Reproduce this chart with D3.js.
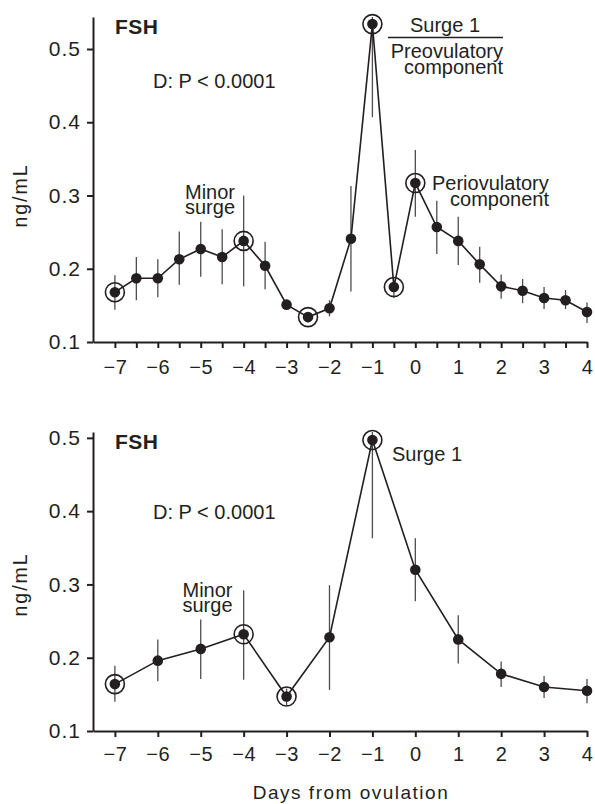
<!DOCTYPE html>
<html>
<head>
<meta charset="utf-8">
<script src="https://cdn.jsdelivr.net/npm/d3@7"></script>
<style>
  body { margin: 0; background: #fff; }
  svg text { font-family: "Liberation Sans", Arial, sans-serif; fill: #231f20; }
</style>
</head>
<body>
<div id="chart"></div>
<script>
// ---- data ----
// top panel: sampled every half day
const topDays = [-7, -6.5, -6, -5.5, -5, -4.5, -4, -3.5, -3, -2.5, -2, -1.5, -1, -0.5, 0, 0.5, 1, 1.5, 2, 2.5, 3, 3.5, 4];
const topMean = [0.168, 0.187, 0.187, 0.213, 0.227, 0.216, 0.238, 0.204, 0.151, 0.134, 0.146, 0.241, 0.534, 0.175, 0.317, 0.257, 0.238, 0.206, 0.176, 0.170, 0.160, 0.157, 0.141];
const topLo   = [0.144, 0.157, 0.161, 0.178, 0.189, 0.179, 0.176, 0.172, 0.145, 0.127, 0.135, 0.169, 0.407, 0.160, 0.271, 0.220, 0.205, 0.181, 0.159, 0.153, 0.145, 0.145, 0.126];
const topHi   = [0.191, 0.216, 0.213, 0.251, 0.264, 0.254, 0.300, 0.237, 0.158, 0.141, 0.157, 0.313, 0.661, 0.185, 0.362, 0.293, 0.271, 0.230, 0.192, 0.186, 0.175, 0.171, 0.154];
const topCircled = [-7, -4, -2.5, -1, -0.5, 0];

// bottom panel: daily
const botDays = [-7, -6, -5, -4, -3, -2, -1, 0, 1, 2, 3, 4];
const botMean = [0.164, 0.196, 0.212, 0.232, 0.147, 0.228, 0.497, 0.320, 0.225, 0.178, 0.160, 0.155];
const botLo   = [0.140, 0.168, 0.171, 0.170, 0.135, 0.156, 0.363, 0.277, 0.192, 0.160, 0.145, 0.138];
const botHi   = [0.189, 0.225, 0.252, 0.292, 0.158, 0.299, 0.631, 0.363, 0.258, 0.195, 0.175, 0.171];
const botCircled = [-7, -4, -3, -1];

const xTicks = [-7, -6, -5, -4, -3, -2, -1, 0, 1, 2, 3, 4];
const yTicks = [0.1, 0.2, 0.3, 0.4, 0.5];

const width = 595, height = 804;

var svg = d3.select("#chart")
  .append("svg")
    .attr("width", width)
    .attr("height", height);

// annotation text; several lines go into tspans of one text
function label(g, x, y, lines, anchor, lead) {
  var t = g.append("text")
    .attr("x", x).attr("y", y)
    .attr("text-anchor", anchor || "start")
    .style("font-size", "20px");
  [].concat(lines).forEach((s, i) => {
    t.append("tspan").attr("x", x).attr("dy", i ? (lead || 15) : 0).text(s);
  });
  return t;
}

// draws one panel; top/bottom are pixel positions of the y axis ends
function drawPanel(p) {
  var g = svg.append("g");

  const x = d3.scaleLinear().domain([-7.51, 4]).range([93, 587]);
  const y = d3.scaleLinear().domain([0.1, p.yMax]).range([p.bottom, p.top]);

  // y axis
  g.append("g")
    .attr("transform", "translate(93,0)")
    .call(d3.axisLeft(y).tickValues(yTicks).tickFormat(d3.format(".1f")).tickSize(6).tickSizeOuter(0).tickPadding(6))
    .call(a => a.selectAll("line, path").attr("stroke", "#231f20").attr("stroke-width", 2))
    .call(a => a.selectAll("text").style("font-size", "21px").style("letter-spacing", "1px"));

  // x axis
  g.append("g")
    .attr("transform", `translate(0,${p.bottom})`)
    .call(d3.axisBottom(x).tickValues(p.tickVals).tickFormat(d => Number.isInteger(d) ? d3.format("")(d) : "").tickSize(6).tickSizeOuter(0).tickPadding(p.xPad))
    .call(a => a.selectAll("line, path").attr("stroke", "#231f20").attr("stroke-width", 2))
    .call(a => a.selectAll("text").style("font-size", "20px").style("letter-spacing", "0.6px"));

  // y label
  g.append("text")
    .attr("transform", `translate(27,${y(0.3)}) rotate(-90)`)
    .attr("text-anchor", "middle")
    .style("font-size", "19.5px").style("letter-spacing", "2px")
    .text("ng/mL");

  const rows = p.days.map((d, i) => ({day: d, mean: p.mean[i], lo: p.lo[i], hi: Math.min(p.hi[i], p.yMax)}));

  // error bars
  g.selectAll("line.err")
    .data(rows)
    .join("line")
      .attr("class", "err")
      .attr("x1", d => x(d.day))
      .attr("x2", d => x(d.day))
      .attr("y1", d => y(d.lo))
      .attr("y2", d => y(d.hi))
      .attr("stroke", "#4d4d4f")
      .attr("stroke-width", 1.3);

  // connecting line
  g.append("path")
    .datum(rows)
    .attr("d", d3.line().x(d => x(d.day)).y(d => y(d.mean)))
    .attr("fill", "none")
    .attr("stroke", "#231f20")
    .attr("stroke-width", 1.6);

  // rings around highlighted days
  g.selectAll("circle.ring")
    .data(rows.filter(d => p.circled.includes(d.day)))
    .join("circle")
      .attr("class", "ring")
      .attr("cx", d => x(d.day))
      .attr("cy", d => y(d.mean))
      .attr("r", 9.5)
      .attr("fill", "none")
      .attr("stroke", "#231f20")
      .attr("stroke-width", 1.6);

  // points
  g.selectAll("circle.pt")
    .data(rows)
    .join("circle")
      .attr("class", "pt")
      .attr("cx", d => x(d.day))
      .attr("cy", d => y(d.mean))
      .attr("r", 5.3)
      .attr("fill", "#231f20");

  // panel titles
  g.append("text")
    .attr("x", 115).attr("y", p.fshY)
    .style("font-size", "21px").style("font-weight", "bold").style("letter-spacing", "0.5px")
    .text("FSH");
  label(g, 153, p.pY, "D: P < 0.0001");

  return {g: g, x: x, y: y};
}

// ---- top panel ----
var topPanel = drawPanel({
  days: topDays, mean: topMean, lo: topLo, hi: topHi, circled: topCircled,
  top: 17, bottom: 342, yMax: 0.5437,
  tickVals: d3.range(-7, 4.01, 0.5), xPad: 12,
  fshY: 34, pY: 88
});

label(topPanel.g, 210, 199, ["Minor", "surge"], "middle", 15);

label(topPanel.g, 445, 32, "Surge 1", "middle");
topPanel.g.append("line").attr("x1", 388).attr("x2", 503).attr("y1", 37.5).attr("y2", 37.5)
  .attr("stroke", "#231f20").attr("stroke-width", 1.3);
label(topPanel.g, 503, 58, ["Preovulatory", "component"], "end", 16);

label(topPanel.g, 432, 190, "Periovulatory");
label(topPanel.g, 549, 206, "component", "end");

// ---- bottom panel ----
var botPanel = drawPanel({
  days: botDays, mean: botMean, lo: botLo, hi: botHi, circled: botCircled,
  top: 432, bottom: 731, yMax: 0.508,
  tickVals: xTicks, xPad: 10,
  fshY: 449, pY: 519
});

label(botPanel.g, 207.5, 596.5, ["Minor", "surge"], "middle", 15);
label(botPanel.g, 392, 461, "Surge 1");

// shared x label
svg.append("text")
  .attr("x", 351).attr("y", 799)
  .attr("text-anchor", "middle")
  .style("font-size", "19px").style("letter-spacing", "1.5px")
  .text("Days from ovulation");
</script>
</body>
</html>
